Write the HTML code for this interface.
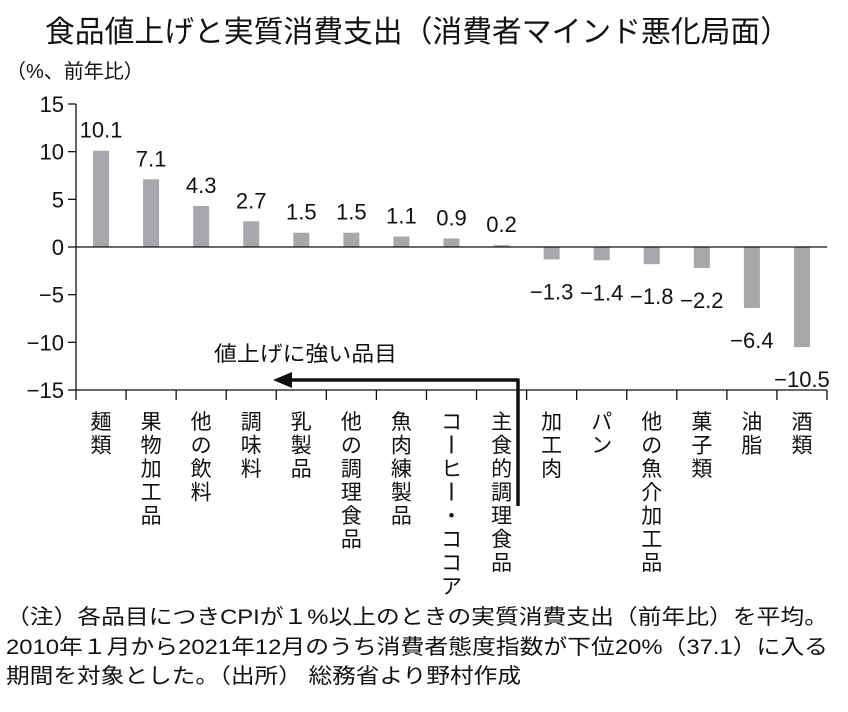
<!DOCTYPE html>
<html><head><meta charset="utf-8"><style>
body{margin:0;background:#fff;}
svg text{font-family:"Liberation Sans","Noto Sans CJK JP",sans-serif;fill:#111;}
</style></head><body>
<svg width="848" height="707" viewBox="0 0 848 707">
<text x="45" y="42" font-size="30" textLength="745" lengthAdjust="spacingAndGlyphs">食品値上げと実質消費支出（消費者マインド悪化局面）</text>
<text x="6" y="78" font-size="20">（%、前年比）</text>
<g id="plot"></g>
<line x1="518" y1="506" x2="518" y2="380" stroke="#111" stroke-width="3.5"/>
<line x1="519.5" y1="380" x2="290" y2="380" stroke="#111" stroke-width="3.5"/>
<polygon points="273,380 292,372 292,388" fill="#111"/>
<text x="214" y="361" font-size="21" textLength="183" lengthAdjust="spacingAndGlyphs">値上げに強い品目</text>
<text x="6" y="624" font-size="21" textLength="822" lengthAdjust="spacingAndGlyphs">（注）各品目につきCPIが１%以上のときの実質消費支出（前年比）を平均。</text>
<text x="6" y="654" font-size="21" textLength="822" lengthAdjust="spacingAndGlyphs">2010年１月から2021年12月のうち消費者態度指数が下位20%（37.1）に入る</text>
<text x="6" y="683" font-size="21" textLength="515" lengthAdjust="spacingAndGlyphs">期間を対象とした。（出所） 総務省より野村作成</text>
</svg>
<script>
const categories=["麺類","果物加工品","他の飲料","調味料","乳製品","他の調理食品","魚肉練製品","コーヒー・ココア","主食的調理食品","加工肉","パン","他の魚介加工品","菓子類","油脂","酒類"];
const values=[10.1,7.1,4.3,2.7,1.5,1.5,1.1,0.9,0.2,-1.3,-1.4,-1.8,-2.2,-6.4,-10.5];
const valueLabels=["10.1","7.1","4.3","2.7","1.5","1.5","1.1","0.9","0.2","−1.3","−1.4","−1.8","−2.2","−6.4","−10.5"];
const yTicks=[15,10,5,0,-5,-10,-15];
const yTickLabels=["15","10","5","0","−5","−10","−15"];
const NS="http://www.w3.org/2000/svg";
const X0=76,X1=827,Y15=104,YM15=390;
const y=v=>Y15+(15-v)*(YM15-Y15)/30;
const band=(X1-X0)/categories.length;
const xc=i=>X0+band*(i+0.5);
const g=document.getElementById('plot');
function mk(t,a){const e=document.createElementNS(NS,t);for(const k in a)e.setAttribute(k,a[k]);g.appendChild(e);return e;}
yTicks.forEach((t,i)=>{
 const l=mk('line',{x1:X0-8,x2:X0,y1:y(t),y2:y(t),stroke:'#111','stroke-width':1.3});
 
 
 const tx=mk('text',{x:X0-12,y:y(t)+8,'text-anchor':'end','font-size':22});
 tx.textContent=yTickLabels[i];
 
 
});
values.forEach((v,i)=>{
 const top=Math.min(y(v),y(0)),h=Math.abs(y(v)-y(0));
 const r=mk('rect',{x:xc(i)-8,y:top,width:16,height:h,fill:'#a7a8ab'});
 
 
 const ly=v>=0?y(v)-13:y(v)+40;
 const t=mk('text',{x:xc(i),y:ly,'text-anchor':'middle','font-size':22});
 t.textContent=valueLabels[i];
 
 
});
let z=mk('line',{x1:X0,x2:X1,y1:y(0),y2:y(0),stroke:'#111','stroke-width':1.3});


let ya=mk('line',{x1:X0,x2:X0,y1:y(15),y2:y(-15),stroke:'#111','stroke-width':1.3});


let xa=mk('line',{x1:X0,x2:X1,y1:y(-15),y2:y(-15),stroke:'#111','stroke-width':1.3});


for(let i=0;i<=categories.length;i++){
 const l=mk('line',{x1:X0+band*i,x2:X0+band*i,y1:y(-15),y2:y(-15)+10,stroke:'#111','stroke-width':1.3});
 
 
}
categories.forEach((c,i)=>{
 [...c].forEach((ch,j)=>{
  if(ch==='ー'){
   const b=mk('line',{x1:xc(i),x2:xc(i),y1:412+j*23.5,y2:430+j*23.5,stroke:'#111','stroke-width':2});
   
   
   return;
  }
  const t=mk('text',{x:xc(i),y:429+j*23.5,'text-anchor':'middle','font-size':21});
  t.textContent=ch;
  
  
 });
});
</script>
</body></html>
